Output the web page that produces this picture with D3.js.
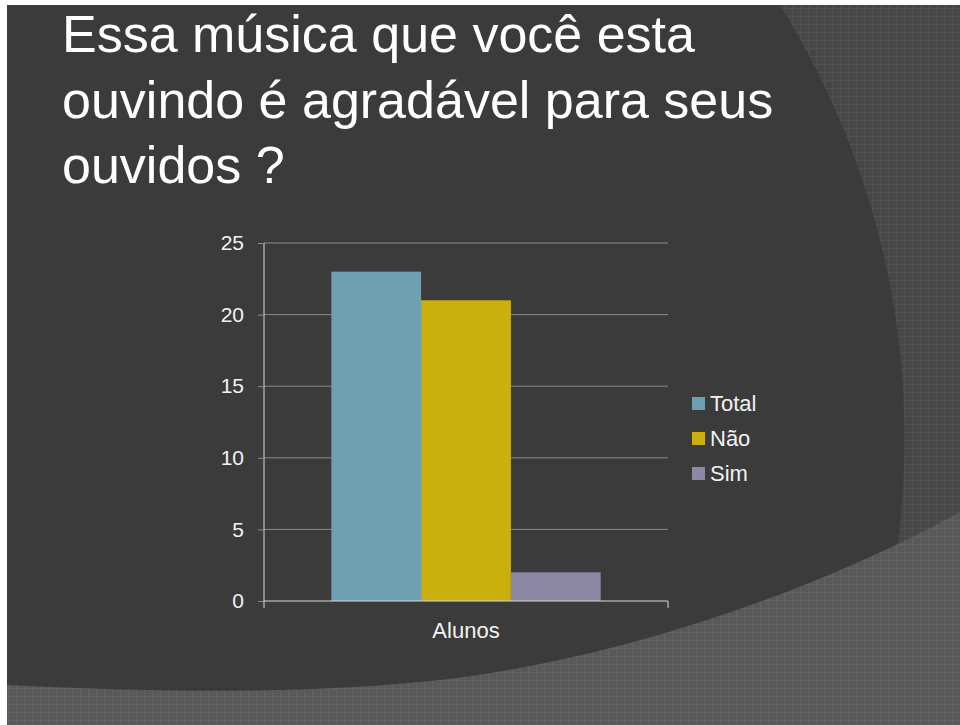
<!DOCTYPE html>
<html>
<head>
<meta charset="utf-8">
<script src="https://cdn.jsdelivr.net/npm/d3@7"></script>
<style>
  body { margin: 0; background: #ffffff; }
  #chart { width: 960px; height: 725px; }
  text { font-family: "Liberation Sans", Arial, sans-serif; }
</style>
</head>
<body>
<div id="chart"></div>
<script>
// Data
var categories = ["Alunos"];
var seriesNames = ["Total", "Não", "Sim"];
var seriesValues = [23, 21, 2];
var yTicks = [0, 5, 10, 15, 20, 25];
var seriesColors = ["#6ea0b1", "#cbaf0d", "#8c88a5"];
var titleLines = ["Essa música que você esta", "ouvindo é agradável para seus", "ouvidos ?"];

var svgWidth = 960;
var svgHeight = 725;

var svg = d3.select("#chart")
    .append("svg")
    .attr("width", svgWidth)
    .attr("height", svgHeight);

// Grid textures for the slide background
var defs = svg.append("defs");

function addTexture(id, base, line) {
    var p = defs.append("pattern")
        .attr("id", id)
        .attr("patternUnits", "userSpaceOnUse")
        .attr("width", 8)
        .attr("height", 8);
    p.append("rect").attr("width", 8).attr("height", 8).attr("fill", base);
    p.append("rect").attr("x", 0).attr("y", 0).attr("width", 8).attr("height", 1).attr("fill", line);
    p.append("rect").attr("x", 0).attr("y", 0).attr("width", 1).attr("height", 8).attr("fill", line);
}
addTexture("texMid", "#474747", "#515151");
addTexture("texLight", "#595959", "#646464");

// Slide background (white border top/left)
var slide = svg.append("g");

slide.append("rect")
    .attr("x", 7).attr("y", 5)
    .attr("width", svgWidth - 7).attr("height", svgHeight - 5)
    .attr("fill", "url(#texMid)");

// big dark shape with curved right edge
slide.append("path")
    .attr("d", "M7,5 H780 C870,150 940,360 885,620 L885,725 L7,725 Z")
    .attr("fill", "#3b3b3b");

// lighter curved band at the bottom
slide.append("path")
    .attr("d", "M7,685 C150,692 300,695 440,680 C600,662 800,600 960,512 L960,725 L7,725 Z")
    .attr("fill", "url(#texLight)");

// Title
svg.append("g")
    .selectAll("text")
    .data(titleLines)
    .enter()
    .append("text")
    .attr("x", 62)
    .attr("y", (d, i) => 52 + i * 65.5)
    .attr("fill", "#ffffff")
    .style("font-size", "52px")
    .text(d => d);

// Chart area
var margin = { "top": 243, "left": 264 };
var width = 404;
var height = 358;

var chartGroup = svg.append("g")
    .attr("transform", `translate(${margin.left}, ${margin.top})`);

var yLinearScale = d3.scaleLinear()
    .domain([0, 25])
    .range([height, 0]);

var x0 = d3.scaleBand()
    .domain(categories)
    .range([0, width])
    .paddingInner(0.2)
    .paddingOuter(0.2);

var x1 = d3.scaleBand()
    .domain(seriesNames)
    .range([0, x0.bandwidth()]);

// Horizontal gridlines
chartGroup.append("g")
    .selectAll("line")
    .data(yTicks.slice(1))
    .enter()
    .append("line")
    .attr("x1", 0)
    .attr("x2", width)
    .attr("y1", d => yLinearScale(d))
    .attr("y2", d => yLinearScale(d))
    .attr("stroke", "#8a8a8a")
    .attr("stroke-width", 1);

// Bars
chartGroup.append("g")
    .selectAll("rect")
    .data(seriesValues)
    .enter()
    .append("rect")
    .attr("x", (d, i) => x0(categories[0]) + x1(seriesNames[i]))
    .attr("y", d => yLinearScale(d))
    .attr("width", x1.bandwidth())
    .attr("height", d => height - yLinearScale(d))
    .attr("fill", (d, i) => seriesColors[i]);

// Y axis
var leftAxis = d3.axisLeft(yLinearScale)
    .tickValues(yTicks)
    .tickSize(6)
    .tickPadding(14);

var yAxis = chartGroup.append("g").call(leftAxis);
yAxis.select(".domain").attr("stroke", "#d9d9d9").attr("d", `M0,0V${height}`);
yAxis.selectAll(".tick line").attr("stroke", "#8a8a8a");
yAxis.selectAll(".tick text")
    .attr("fill", "#f2f2f2")
    .style("font-size", "21px")
    .style("font-family", "'Liberation Sans', Arial, sans-serif");

// X axis
var bottomAxis = d3.axisBottom(x0).tickSize(0).tickPadding(21);

var xAxis = chartGroup.append("g")
    .attr("transform", `translate(0, ${height})`)
    .call(bottomAxis);
xAxis.select(".domain").attr("stroke", "#d9d9d9").attr("d", `M0,7V0H${width}V7`);
xAxis.selectAll(".tick text")
    .attr("fill", "#f2f2f2")
    .style("font-size", "22px")
    .style("font-family", "'Liberation Sans', Arial, sans-serif");

// Legend
var legend = svg.append("g")
    .attr("transform", "translate(692, 397)")
    .selectAll("g")
    .data(seriesNames)
    .enter()
    .append("g")
    .attr("transform", (d, i) => `translate(0, ${i * 35})`);

legend.append("rect")
    .attr("width", 13)
    .attr("height", 13)
    .attr("fill", (d, i) => seriesColors[i]);

legend.append("text")
    .attr("x", 18)
    .attr("y", 14)
    .attr("fill", "#f2f2f2")
    .style("font-size", "22px")
    .text(d => d);
</script>
</body>
</html>
